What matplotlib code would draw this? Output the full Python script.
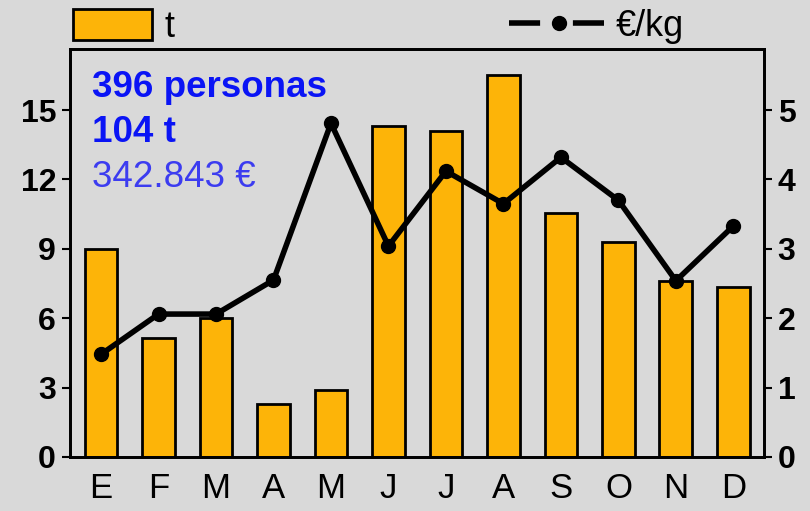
import numpy as np
import matplotlib.pyplot as plt
from matplotlib.patches import Patch
from matplotlib.lines import Line2D

plt.rcParams['font.family'] = ['Liberation Sans', 'DejaVu Sans']

# Monthly data
months = ['E', 'F', 'M', 'A', 'M', 'J', 'J', 'A', 'S', 'O', 'N', 'D']
tonnes = [9.0, 5.15, 6.0, 2.3, 2.9, 14.3, 14.1, 16.5, 10.55, 9.3, 7.6, 7.35]
eur_per_kg = [1.48, 2.06, 2.06, 2.55, 4.81, 3.04, 4.12, 3.65, 4.32, 3.70, 2.54, 3.33]

left_ticks = [0, 3, 6, 9, 12, 15]
right_ticks = [0, 1, 2, 3, 4, 5]

bg = '#d9d9d9'
bar_color = '#FDB408'

fig = plt.figure(figsize=(8.10, 5.11), dpi=100, facecolor=bg)
ax = fig.add_axes([0.0864, 0.1057, 0.8566, 0.7983], facecolor=bg)

x = np.arange(len(months))
ax.bar(x, tonnes, width=0.57, color=bar_color, edgecolor='black', linewidth=2, zorder=2)
ax.set_xlim(-0.54, 11.53)
ax.set_ylim(0, 17.64)
ax.set_yticks(left_ticks)
ax.set_xticks(x)
ax.set_xticklabels(months, fontsize=25)
ax.tick_params(axis='x', length=0, pad=11)
ax.tick_params(axis='y', length=6, width=1.5, pad=4, labelsize=23)
for lab in ax.get_yticklabels():
    lab.set_fontweight('bold')

ax2 = ax.twinx()
ax2.plot(x, eur_per_kg, color='black', lw=4, marker='o', markersize=10, zorder=3)
ax2.set_ylim(0, 17.64 / 3)
ax2.set_yticks(right_ticks)
ax2.tick_params(axis='y', length=6, width=1.5, pad=4, labelsize=23)
for lab in ax2.get_yticklabels():
    lab.set_fontweight('bold')

for a in (ax, ax2):
    for s in a.spines.values():
        s.set_linewidth(2)
        s.set_color('black')

# Summary text
ax.text(0.032, 0.905, '396 personas', transform=ax.transAxes, color='#0a14f5',
        fontsize=26.5, fontweight='bold', va='center')
ax.text(0.032, 0.795, '104 t', transform=ax.transAxes, color='#0a14f5',
        fontsize=26.5, fontweight='bold', va='center')
ax.text(0.032, 0.685, '342.843 €', transform=ax.transAxes, color='#3c3cf0',
        fontsize=26.5, va='center')

# Legends above the plot
h1 = Patch(facecolor=bar_color, edgecolor='black', linewidth=2)
fig.legend([h1], ['t'], loc='center left', bbox_to_anchor=(0.09, 0.948),
           frameon=False, fontsize=26, handlelength=2.2, handleheight=0.95,
           handletextpad=0.35, borderpad=0, borderaxespad=0)
h2 = Line2D([], [], color='black', lw=4, marker='o', markersize=10,
            dashes=(5.6, 5.9))
fig.legend([h2], ['€/kg'], loc='center left', bbox_to_anchor=(0.628, 0.948),
           frameon=False, fontsize=26, handlelength=2.8, handletextpad=0.15,
           borderpad=0, borderaxespad=0)

fig.savefig('out.png', dpi=100, facecolor=bg)
